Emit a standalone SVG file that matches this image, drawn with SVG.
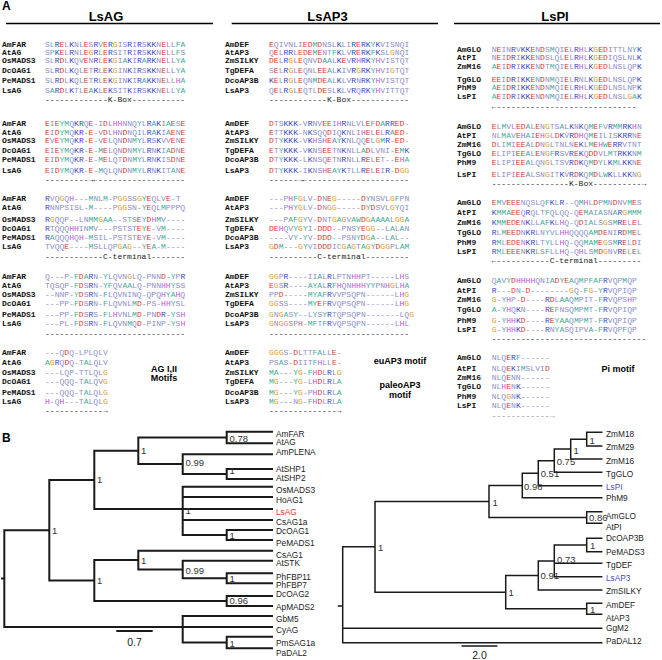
<svg xmlns="http://www.w3.org/2000/svg" width="662" height="660" viewBox="0 0 662 660">
<style>
.pl{font:bold 12px "Liberation Sans",Arial,sans-serif;fill:#000}
.ti{font:bold 13px "Liberation Sans",Arial,sans-serif;fill:#000;text-anchor:middle}
.mo{font:bold 9px "Liberation Sans",Arial,sans-serif;fill:#000;text-anchor:middle}
.n{font:bold 8px "Liberation Mono","DejaVu Sans Mono",monospace;fill:#111}
.s{font:8.05px "Liberation Mono","DejaVu Sans Mono",monospace;fill:#8b8dc9}
.d{font:8.05px "Liberation Mono","DejaVu Sans Mono",monospace;fill:#222}
.b{fill:#3945c6}.r{fill:#e0372c}.o{fill:#e2a02a}.m{fill:#c252d8}.t{fill:#3fae96}
.lf{font:8.3px "Liberation Sans",Arial,sans-serif;fill:#222}
.sv{font:9.5px "Liberation Sans",Arial,sans-serif;fill:#333}
.sc{font:10.5px "Liberation Sans",Arial,sans-serif;fill:#222;text-anchor:middle}
.tl{fill:none;stroke:#1a1a1a;stroke-width:2;stroke-linecap:square}
.tr{fill:none;stroke:#1a1a1a;stroke-width:1.5;stroke-linecap:square}
</style>
<rect width="662" height="660" fill="#fff"/>
<text class="pl" x="2" y="10">A</text>
<text class="ti" x="106" y="21">LsAG</text>
<text class="ti" x="327.5" y="21">LsAP3</text>
<text class="ti" x="555" y="21">LsPI</text>
<path d="M6,23.5H213M231.7,23.5H438M454,23.5H660" stroke="#000" stroke-width="1.3"/>

<g id="col-LsAG">
<text class="n" x="2" y="46.5">AmFAR</text><text class="n" x="2" y="55.2">AtAG</text><text class="n" x="2" y="63.2">OsMADS3</text><text class="n" x="2" y="73.2">DcOAG1</text><text class="n" x="2" y="82.5">PeMADS1</text><text class="n" x="2" y="92.5">LsAG</text>
<text class="s" x="45" y="46.5">SL<tspan class="b">R</tspan><tspan class="r">E</tspan>L<tspan class="b">K</tspan>NL<tspan class="r">E</tspan>S<tspan class="b">R</tspan>V<tspan class="r">E</tspan><tspan class="b">R</tspan><tspan class="o">G</tspan>IS<tspan class="b">R</tspan>I<tspan class="b">R</tspan>S<tspan class="b">KK</tspan>N<tspan class="r">E</tspan>LL<tspan class="t">FA</tspan></text>
<text class="s" x="45" y="55.2">SP<tspan class="b">K</tspan><tspan class="r">E</tspan>L<tspan class="b">R</tspan>NL<tspan class="r">E</tspan><tspan class="o">G</tspan><tspan class="b">R</tspan>L<tspan class="r">E</tspan><tspan class="b">R</tspan>SIT<tspan class="b">R</tspan>I<tspan class="b">R</tspan>S<tspan class="b">KK</tspan>N<tspan class="r">E</tspan>LL<tspan class="t">F</tspan>S</text>
<text class="s" x="45" y="63.2">SL<tspan class="b">R</tspan><tspan class="r">D</tspan>L<tspan class="b">K</tspan>QV<tspan class="r">E</tspan>N<tspan class="b">R</tspan>L<tspan class="r">E</tspan><tspan class="b">K</tspan><tspan class="o">G</tspan>I<tspan class="t">A</tspan><tspan class="b">K</tspan>I<tspan class="b">R</tspan><tspan class="t">A</tspan><tspan class="b">RK</tspan>N<tspan class="r">E</tspan>LL<tspan class="t">YA</tspan></text>
<text class="s" x="45" y="73.2">SL<tspan class="b">R</tspan><tspan class="r">D</tspan>L<tspan class="b">K</tspan>QL<tspan class="r">E</tspan>T<tspan class="b">R</tspan>L<tspan class="r">E</tspan><tspan class="b">K</tspan><tspan class="o">G</tspan>IN<tspan class="b">K</tspan>I<tspan class="b">R</tspan>S<tspan class="b">KK</tspan>N<tspan class="r">E</tspan>LL<tspan class="t">YA</tspan></text>
<text class="s" x="45" y="82.5">SL<tspan class="b">R</tspan><tspan class="r">D</tspan>L<tspan class="b">K</tspan>QL<tspan class="r">E</tspan>T<tspan class="b">R</tspan>L<tspan class="r">E</tspan><tspan class="b">K</tspan><tspan class="o">G</tspan>IN<tspan class="b">K</tspan>I<tspan class="b">R</tspan><tspan class="t">A</tspan><tspan class="b">KK</tspan>N<tspan class="r">E</tspan>LL<tspan class="m">H</tspan><tspan class="t">A</tspan></text>
<text class="s" x="45" y="92.5">S<tspan class="t">A</tspan><tspan class="b">R</tspan><tspan class="r">D</tspan>L<tspan class="b">K</tspan>TL<tspan class="r">E</tspan><tspan class="t">A</tspan><tspan class="b">K</tspan>L<tspan class="r">E</tspan><tspan class="b">K</tspan>SIT<tspan class="b">K</tspan>I<tspan class="b">R</tspan>S<tspan class="b">KK</tspan>N<tspan class="r">E</tspan>LL<tspan class="t">YA</tspan></text>
<text class="d" x="45" y="101.8">-------------K-Box-----------</text>

<text class="n" x="2" y="125.5">AmFAR</text><text class="n" x="2" y="134.5">AtAG</text><text class="n" x="2" y="143">OsMADS3</text><text class="n" x="2" y="152.5">DcOAG1</text><text class="n" x="2" y="162">PeMADS1</text><text class="n" x="2" y="172.5">LsAG</text>
<text class="s" x="45" y="125.5"><tspan class="r">E</tspan>I<tspan class="r">E</tspan><tspan class="t">YM</tspan>Q<tspan class="b">KR</tspan>Q<tspan class="r">E</tspan>-I<tspan class="r">D</tspan>L<tspan class="m">HH</tspan>NNQ<tspan class="t">Y</tspan>L<tspan class="b">R</tspan><tspan class="t">A</tspan><tspan class="b">K</tspan>I<tspan class="t">A</tspan><tspan class="r">E</tspan>S<tspan class="r">E</tspan></text>
<text class="s" x="45" y="134.5"><tspan class="r">E</tspan>I<tspan class="r">D</tspan><tspan class="t">YM</tspan>Q<tspan class="b">KR</tspan>-<tspan class="r">E</tspan>-V<tspan class="r">D</tspan>L<tspan class="m">H</tspan>N<tspan class="r">D</tspan>NQIL<tspan class="b">R</tspan><tspan class="t">A</tspan><tspan class="b">K</tspan>I<tspan class="t">A</tspan><tspan class="r">E</tspan>N<tspan class="r">E</tspan></text>
<text class="s" x="45" y="143"><tspan class="r">E</tspan>V<tspan class="r">E</tspan><tspan class="t">YM</tspan>Q<tspan class="b">KR</tspan>-<tspan class="r">E</tspan>-V<tspan class="r">E</tspan>LQN<tspan class="r">D</tspan>N<tspan class="t">MY</tspan>L<tspan class="b">R</tspan>S<tspan class="b">K</tspan>VV<tspan class="r">E</tspan>N<tspan class="r">E</tspan></text>
<text class="s" x="45" y="152.5"><tspan class="r">E</tspan>I<tspan class="r">E</tspan><tspan class="t">YM</tspan>Q<tspan class="b">KR</tspan>-<tspan class="r">E</tspan>-<tspan class="t">M</tspan><tspan class="r">E</tspan>LQN<tspan class="r">D</tspan>N<tspan class="t">MY</tspan>L<tspan class="b">R</tspan>N<tspan class="b">K</tspan>I<tspan class="t">A</tspan><tspan class="r">D</tspan>N<tspan class="r">E</tspan></text>
<text class="s" x="45" y="162"><tspan class="r">E</tspan>I<tspan class="r">D</tspan><tspan class="t">YM</tspan>Q<tspan class="b">KR</tspan>-<tspan class="r">E</tspan>-<tspan class="t">M</tspan><tspan class="r">E</tspan>LQT<tspan class="r">D</tspan>N<tspan class="t">MY</tspan>L<tspan class="b">R</tspan>N<tspan class="b">K</tspan>IS<tspan class="r">D</tspan>N<tspan class="r">E</tspan></text>
<text class="s" x="45" y="172.5"><tspan class="r">E</tspan>I<tspan class="r">D</tspan><tspan class="t">YM</tspan>Q<tspan class="b">KR</tspan>-<tspan class="r">E</tspan>-<tspan class="t">M</tspan>QLQN<tspan class="r">D</tspan>N<tspan class="t">MY</tspan>L<tspan class="b">R</tspan>N<tspan class="b">K</tspan>IT<tspan class="t">A</tspan>N<tspan class="r">E</tspan></text>
<text class="d" x="45" y="181.8">---------→←------------------</text>

<text class="n" x="2" y="201">AmFAR</text><text class="n" x="2" y="210.3">AtAG</text><text class="n" x="2" y="221.8">OsMADS3</text><text class="n" x="2" y="230.8">DcOAG1</text><text class="n" x="2" y="239.8">PeMADS1</text><text class="n" x="2" y="249.2">LsAG</text>
<text class="s" x="45" y="201"><tspan class="b">R</tspan>VQ<tspan class="o">G</tspan>Q<tspan class="m">H</tspan>---<tspan class="t">M</tspan>NL<tspan class="t">M</tspan>-P<tspan class="o">GG</tspan>SS<tspan class="o">G</tspan><tspan class="t">Y</tspan><tspan class="r">E</tspan>QLV<tspan class="r">E</tspan>-T</text>
<text class="s" x="45" y="210.3"><tspan class="b">R</tspan>NNPSISL-<tspan class="t">M</tspan>----P<tspan class="o">GG</tspan>SN-<tspan class="t">Y</tspan><tspan class="r">E</tspan>QL<tspan class="t">M</tspan>PPPQ</text>
<text class="s" x="45" y="221.8"><tspan class="b">R</tspan><tspan class="o">G</tspan>QQP--LN<tspan class="t">MM</tspan><tspan class="o">G</tspan><tspan class="t">AA</tspan>--STS<tspan class="r">E</tspan><tspan class="t">Y</tspan><tspan class="r">D</tspan><tspan class="m">H</tspan><tspan class="t">M</tspan>V----</text>
<text class="s" x="45" y="230.8"><tspan class="b">R</tspan>TQQQ<tspan class="m">HH</tspan>IN<tspan class="t">M</tspan>V---PSTST<tspan class="r">E</tspan><tspan class="t">Y</tspan><tspan class="r">E</tspan>-V<tspan class="t">M</tspan>----</text>
<text class="s" x="45" y="239.8"><tspan class="b">R</tspan><tspan class="t">A</tspan>QQQ<tspan class="m">H</tspan>Q<tspan class="m">H</tspan>-<tspan class="t">M</tspan>SIL-PSTST<tspan class="r">E</tspan><tspan class="t">Y</tspan><tspan class="r">E</tspan>-V<tspan class="t">M</tspan>----</text>
<text class="s" x="45" y="249.2">TVQQ<tspan class="r">E</tspan>----<tspan class="t">M</tspan>SLLQP<tspan class="o">G</tspan><tspan class="t">A</tspan><tspan class="o">G</tspan>--<tspan class="t">Y</tspan><tspan class="r">E</tspan><tspan class="t">A</tspan>-<tspan class="t">M</tspan>----</text>
<text class="d" x="45" y="258.5">------------C-terminal-------</text>

<text class="n" x="2" y="278.5">AmFAR</text><text class="n" x="2" y="287.5">AtAG</text><text class="n" x="2" y="296.8">OsMADS3</text><text class="n" x="2" y="306.3">DcOAG1</text><text class="n" x="2" y="317.3">PeMADS1</text><text class="n" x="2" y="326">LsAG</text>
<text class="s" x="45" y="278.5">Q---P-<tspan class="t">F</tspan><tspan class="r">D</tspan><tspan class="t">A</tspan><tspan class="b">R</tspan>N-<tspan class="t">Y</tspan>LQVN<tspan class="o">G</tspan>LQ-PNN<tspan class="r">D</tspan>-<tspan class="t">Y</tspan>P<tspan class="b">R</tspan></text>
<text class="s" x="45" y="287.5">TQSQP-<tspan class="t">F</tspan><tspan class="r">D</tspan>S<tspan class="b">R</tspan>N-<tspan class="t">YF</tspan>QV<tspan class="t">AA</tspan>LQ-PNN<tspan class="m">HH</tspan><tspan class="t">Y</tspan>SS</text>
<text class="s" x="45" y="296.8">--NNP-<tspan class="t">Y</tspan><tspan class="r">D</tspan>S<tspan class="b">R</tspan>N-<tspan class="t">F</tspan>LQVNINQ-QPQ<tspan class="m">H</tspan><tspan class="t">YA</tspan><tspan class="m">H</tspan>Q</text>
<text class="s" x="45" y="306.3">---PP-<tspan class="t">F</tspan><tspan class="r">D</tspan>S<tspan class="b">R</tspan>N-<tspan class="t">F</tspan>LQVNL<tspan class="t">M</tspan><tspan class="r">D</tspan>-PS-<tspan class="m">HH</tspan><tspan class="t">Y</tspan>SL</text>
<text class="s" x="45" y="317.3">---PP-<tspan class="t">F</tspan><tspan class="r">D</tspan>S<tspan class="b">R</tspan>S-<tspan class="t">F</tspan>L<tspan class="m">H</tspan>VNL<tspan class="t">M</tspan><tspan class="r">D</tspan>-PN<tspan class="r">D</tspan><tspan class="b">R</tspan>-<tspan class="t">Y</tspan>S<tspan class="m">H</tspan></text>
<text class="s" x="45" y="326">---PL-<tspan class="t">F</tspan><tspan class="r">D</tspan>S<tspan class="b">R</tspan>N-<tspan class="t">F</tspan>LQVN<tspan class="t">M</tspan>Q<tspan class="r">D</tspan>-PINP-<tspan class="t">Y</tspan>S<tspan class="m">H</tspan></text>
<text class="d" x="45" y="335.6">-----------------------------</text>

<text class="n" x="2" y="354.5">AmFAR</text><text class="n" x="2" y="365">AtAG</text><text class="n" x="2" y="374.5">OsMADS3</text><text class="n" x="2" y="383.5">DcOAG1</text><text class="n" x="2" y="395">PeMADS1</text><text class="n" x="2" y="404.2">LsAG</text>
<text class="s" x="45" y="354.5">---Q<tspan class="r">D</tspan>Q-LPLQLV</text>
<text class="s" x="45" y="365"><tspan class="t">A</tspan><tspan class="o">G</tspan><tspan class="b">R</tspan>Q<tspan class="r">D</tspan>Q-T<tspan class="t">A</tspan>LQLV</text>
<text class="s" x="45" y="374.5">---LQP-TTLQL<tspan class="o">G</tspan></text>
<text class="s" x="45" y="383.5">---QQQ-T<tspan class="t">A</tspan>LQV<tspan class="o">G</tspan></text>
<text class="s" x="45" y="395">---QQQ-T<tspan class="t">A</tspan>LQL<tspan class="o">G</tspan></text>
<text class="s" x="45" y="404.2"><tspan class="m">H</tspan>-Q<tspan class="m">H</tspan>---T<tspan class="t">A</tspan>LQL<tspan class="o">G</tspan></text>
<text class="d" x="45" y="413.2">------------→</text>
<text class="mo" x="164" y="371.5">AG I,II</text>
<text class="mo" x="164" y="381">Motifs</text>
</g>

<g id="col-LsAP3">
<text class="n" x="225" y="46.5">AmDEF</text><text class="n" x="225" y="55.2">AtAP3</text><text class="n" x="225" y="63.2">ZmSILKY</text><text class="n" x="225" y="73.2">TgDEFA</text><text class="n" x="225" y="82.5">DcoAP3B</text><text class="n" x="225" y="92.5">LsAP3</text>
<text class="s" x="269" y="46.5"><tspan class="r">E</tspan>QIVNLI<tspan class="r">ED</tspan><tspan class="t">M</tspan><tspan class="r">D</tspan>NSL<tspan class="b">K</tspan>LI<tspan class="b">R</tspan><tspan class="r">E</tspan><tspan class="b">RK</tspan><tspan class="t">Y</tspan><tspan class="b">K</tspan>VISNQI</text>
<text class="s" x="269" y="55.2">Q<tspan class="r">E</tspan>L<tspan class="b">RR</tspan>L<tspan class="r">EDE</tspan><tspan class="t">M</tspan><tspan class="r">E</tspan>NT<tspan class="t">F</tspan><tspan class="b">K</tspan>LV<tspan class="b">R</tspan><tspan class="r">E</tspan><tspan class="b">RK</tspan><tspan class="t">F</tspan><tspan class="b">K</tspan>SL<tspan class="o">G</tspan>NQI</text>
<text class="s" x="269" y="63.2"><tspan class="r">DE</tspan>L<tspan class="b">R</tspan><tspan class="o">G</tspan>L<tspan class="r">E</tspan>QNV<tspan class="r">D</tspan><tspan class="t">AA</tspan>L<tspan class="b">K</tspan><tspan class="r">E</tspan>V<tspan class="b">R</tspan><tspan class="m">H</tspan><tspan class="b">RK</tspan><tspan class="t">Y</tspan><tspan class="m">H</tspan>VISTQT</text>
<text class="s" x="269" y="73.2">S<tspan class="r">E</tspan>L<tspan class="b">R</tspan><tspan class="o">G</tspan>L<tspan class="r">E</tspan>QNL<tspan class="r">EE</tspan><tspan class="t">A</tspan>L<tspan class="b">K</tspan>IV<tspan class="b">R</tspan><tspan class="o">G</tspan><tspan class="b">RK</tspan><tspan class="t">Y</tspan><tspan class="m">H</tspan>VI<tspan class="o">G</tspan>TQT</text>
<text class="s" x="269" y="82.5"><tspan class="b">K</tspan><tspan class="r">E</tspan>L<tspan class="b">R</tspan><tspan class="o">G</tspan>L<tspan class="r">E</tspan>QN<tspan class="t">M</tspan><tspan class="r">DE</tspan><tspan class="t">A</tspan>L<tspan class="b">K</tspan>LV<tspan class="b">R</tspan>N<tspan class="b">RK</tspan><tspan class="t">Y</tspan><tspan class="m">H</tspan>VISTQT</text>
<text class="s" x="269" y="92.5">Q<tspan class="r">E</tspan>L<tspan class="b">R</tspan><tspan class="o">G</tspan>L<tspan class="r">E</tspan>QTL<tspan class="r">DE</tspan>SL<tspan class="b">K</tspan>LV<tspan class="b">R</tspan>Q<tspan class="b">RK</tspan><tspan class="t">Y</tspan><tspan class="m">H</tspan>VITTQT</text>
<text class="d" x="269" y="101.8">------------K-Box------------</text>

<text class="n" x="225" y="125.5">AmDEF</text><text class="n" x="225" y="134.5">AtAP3</text><text class="n" x="225" y="143">ZmSILKY</text><text class="n" x="225" y="152.5">TgDEFA</text><text class="n" x="225" y="162">DcoAP3B</text><text class="n" x="225" y="172.5">LsAP3</text>
<text class="s" x="269" y="125.5"><tspan class="r">D</tspan>TS<tspan class="b">KKK</tspan>-V<tspan class="b">R</tspan>NV<tspan class="r">EE</tspan>I<tspan class="m">H</tspan><tspan class="b">R</tspan>NLVL<tspan class="r">E</tspan><tspan class="t">F</tspan><tspan class="r">D</tspan><tspan class="t">A</tspan><tspan class="b">RR</tspan><tspan class="r">ED</tspan>-</text>
<text class="s" x="269" y="134.5"><tspan class="r">E</tspan>TT<tspan class="b">KKK</tspan>-N<tspan class="b">K</tspan>SQQ<tspan class="r">D</tspan>IQ<tspan class="b">K</tspan>NLI<tspan class="m">H</tspan><tspan class="r">E</tspan>L<tspan class="r">E</tspan>L<tspan class="b">R</tspan><tspan class="t">A</tspan><tspan class="r">ED</tspan>-</text>
<text class="s" x="269" y="143"><tspan class="r">D</tspan>T<tspan class="t">Y</tspan><tspan class="b">KKK</tspan>-V<tspan class="b">K</tspan><tspan class="m">H</tspan>S<tspan class="m">H</tspan><tspan class="r">E</tspan><tspan class="t">AY</tspan><tspan class="b">K</tspan>NLQQ<tspan class="r">E</tspan>L<tspan class="o">G</tspan><tspan class="t">M</tspan><tspan class="b">R</tspan>-<tspan class="r">ED</tspan>-</text>
<text class="s" x="269" y="152.5"><tspan class="r">E</tspan>T<tspan class="t">Y</tspan><tspan class="b">KKK</tspan>-V<tspan class="b">K</tspan>NS<tspan class="r">EE</tspan>TN<tspan class="b">K</tspan>NLL<tspan class="t">A</tspan><tspan class="r">D</tspan>LVNI-<tspan class="r">E</tspan><tspan class="t">M</tspan><tspan class="b">K</tspan></text>
<text class="s" x="269" y="162"><tspan class="r">D</tspan>T<tspan class="t">Y</tspan><tspan class="b">KKK</tspan>-L<tspan class="b">K</tspan>NSQ<tspan class="r">E</tspan>TN<tspan class="b">R</tspan>NLL<tspan class="b">R</tspan><tspan class="r">E</tspan>L<tspan class="r">E</tspan>T--<tspan class="r">E</tspan><tspan class="m">H</tspan><tspan class="t">A</tspan></text>
<text class="s" x="269" y="172.5"><tspan class="r">D</tspan>T<tspan class="t">Y</tspan><tspan class="b">KKK</tspan>-I<tspan class="b">K</tspan>NS<tspan class="m">H</tspan><tspan class="r">E</tspan><tspan class="t">AY</tspan><tspan class="b">K</tspan>TLL<tspan class="b">R</tspan><tspan class="r">E</tspan>L<tspan class="r">E</tspan>I<tspan class="b">R</tspan>-<tspan class="r">D</tspan><tspan class="o">GG</tspan></text>
<text class="d" x="269" y="181.8">------→←---------------------</text>

<text class="n" x="225" y="201">AmDEF</text><text class="n" x="225" y="210.3">AtAP3</text><text class="n" x="225" y="221.8">ZmSILKY</text><text class="n" x="225" y="230.8">TgDEFA</text><text class="n" x="225" y="239.8">DcoAP3B</text><text class="n" x="225" y="249.2">LsAP3</text>
<text class="s" x="269" y="201">---P<tspan class="m">H</tspan><tspan class="t">F</tspan><tspan class="o">G</tspan>LV-<tspan class="r">D</tspan>N<tspan class="r">E</tspan><tspan class="o">G</tspan>-----<tspan class="r">D</tspan><tspan class="t">Y</tspan>NSVL<tspan class="o">G</tspan><tspan class="t">F</tspan>PN</text>
<text class="s" x="269" y="210.3">---P<tspan class="m">H</tspan><tspan class="t">Y</tspan><tspan class="o">G</tspan>LV-<tspan class="r">D</tspan>N<tspan class="o">GG</tspan>-----<tspan class="r">D</tspan><tspan class="t">Y</tspan><tspan class="r">D</tspan>SVL<tspan class="o">G</tspan><tspan class="t">Y</tspan>QI</text>
<text class="s" x="269" y="221.8">---P<tspan class="t">AF</tspan><tspan class="o">G</tspan><tspan class="t">Y</tspan>V-<tspan class="r">D</tspan>NT<tspan class="o">G</tspan><tspan class="t">A</tspan><tspan class="o">G</tspan>V<tspan class="t">AW</tspan><tspan class="r">D</tspan><tspan class="o">G</tspan><tspan class="t">AAAA</tspan>L<tspan class="o">GG</tspan><tspan class="t">A</tspan></text>
<text class="s" x="269" y="230.8"><tspan class="r">DE</tspan><tspan class="m">H</tspan>QV<tspan class="t">Y</tspan><tspan class="o">G</tspan><tspan class="t">Y</tspan>I-<tspan class="r">DDD</tspan>--PNS<tspan class="t">Y</tspan><tspan class="r">E</tspan><tspan class="o">GG</tspan>--L<tspan class="t">A</tspan>L<tspan class="t">A</tspan>N</text>
<text class="s" x="269" y="239.8">----V<tspan class="t">Y</tspan>-<tspan class="t">Y</tspan>V-<tspan class="r">DDD</tspan>--PSN<tspan class="t">Y</tspan><tspan class="r">D</tspan><tspan class="o">G</tspan><tspan class="t">A</tspan>--L<tspan class="t">A</tspan>L--</text>
<text class="s" x="269" y="249.2"><tspan class="o">G</tspan><tspan class="r">D</tspan><tspan class="t">M</tspan>---<tspan class="o">G</tspan><tspan class="t">Y</tspan>VI<tspan class="r">DDD</tspan>IC<tspan class="o">G</tspan><tspan class="t">A</tspan><tspan class="o">G</tspan>T<tspan class="t">A</tspan><tspan class="o">G</tspan><tspan class="t">Y</tspan><tspan class="r">D</tspan><tspan class="o">GG</tspan>PL<tspan class="t">AM</tspan></text>
<text class="d" x="269" y="258.5">----------C-terminal---------</text>

<text class="n" x="225" y="278.5">AmDEF</text><text class="n" x="225" y="287.5">AtAP3</text><text class="n" x="225" y="296.8">ZmSILKY</text><text class="n" x="225" y="306.3">TgDEFA</text><text class="n" x="225" y="317.3">DcoAP3B</text><text class="n" x="225" y="326">LsAP3</text>
<text class="s" x="269" y="278.5"><tspan class="o">GG</tspan>P<tspan class="b">R</tspan>----II<tspan class="t">A</tspan>L<tspan class="b">R</tspan>LPTN<tspan class="m">HH</tspan>PT-----L<tspan class="m">H</tspan>S</text>
<text class="s" x="269" y="287.5"><tspan class="r">E</tspan><tspan class="o">G</tspan>S<tspan class="b">R</tspan>----<tspan class="t">AYA</tspan>L<tspan class="b">R</tspan><tspan class="t">F</tspan><tspan class="m">H</tspan>QN<tspan class="m">HHH</tspan><tspan class="t">YY</tspan>PN<tspan class="m">H</tspan><tspan class="o">G</tspan>L<tspan class="m">H</tspan><tspan class="t">A</tspan></text>
<text class="s" x="269" y="296.8">PP<tspan class="r">D</tspan>-----<tspan class="t">MYAF</tspan><tspan class="b">R</tspan>VVPSQPN------L<tspan class="m">H</tspan><tspan class="o">G</tspan></text>
<text class="s" x="269" y="306.3"><tspan class="o">GG</tspan>SS----<tspan class="t">MY</tspan><tspan class="r">E</tspan><tspan class="t">F</tspan><tspan class="b">R</tspan>VQPSQPN------L<tspan class="m">H</tspan><tspan class="o">G</tspan></text>
<text class="s" x="269" y="317.3"><tspan class="o">G</tspan>N<tspan class="o">G</tspan><tspan class="t">A</tspan>S<tspan class="t">Y</tspan>--L<tspan class="t">Y</tspan>S<tspan class="t">Y</tspan><tspan class="b">R</tspan>TQPSQPN-------LQ<tspan class="o">G</tspan></text>
<text class="s" x="269" y="326"><tspan class="o">G</tspan>N<tspan class="o">GG</tspan>SP<tspan class="m">H</tspan>-<tspan class="t">MF</tspan>T<tspan class="t">F</tspan><tspan class="b">R</tspan>VQPSQPN------L<tspan class="m">H</tspan>L</text>
<text class="d" x="269" y="335.6">-----------------------------</text>

<text class="n" x="225" y="354.5">AmDEF</text><text class="n" x="225" y="365">AtAP3</text><text class="n" x="225" y="374.5">ZmSILKY</text><text class="n" x="225" y="383.5">TgDEFA</text><text class="n" x="225" y="395">DcoAP3B</text><text class="n" x="225" y="404.2">LsAP3</text>
<text class="s" x="269" y="354.5"><tspan class="o">GGG</tspan>S-<tspan class="r">D</tspan>LTT<tspan class="t">FA</tspan>LL<tspan class="r">E</tspan>-</text>
<text class="s" x="269" y="365">PS<tspan class="t">A</tspan>S-<tspan class="r">D</tspan>IIT<tspan class="t">F</tspan><tspan class="m">H</tspan>LL<tspan class="r">E</tspan>-</text>
<text class="s" x="269" y="374.5"><tspan class="t">MA</tspan>---<tspan class="t">Y</tspan><tspan class="o">G</tspan>-<tspan class="t">F</tspan><tspan class="m">H</tspan><tspan class="r">D</tspan>L<tspan class="b">R</tspan>L<tspan class="o">G</tspan></text>
<text class="s" x="269" y="383.5"><tspan class="t">M</tspan><tspan class="o">G</tspan>---<tspan class="t">Y</tspan><tspan class="o">G</tspan>-L<tspan class="m">H</tspan><tspan class="r">D</tspan>L<tspan class="b">R</tspan>L<tspan class="t">A</tspan></text>
<text class="s" x="269" y="395"><tspan class="t">M</tspan><tspan class="o">G</tspan>---<tspan class="t">Y</tspan><tspan class="o">G</tspan>-P<tspan class="m">H</tspan><tspan class="r">D</tspan>L<tspan class="b">R</tspan>L<tspan class="t">A</tspan></text>
<text class="s" x="269" y="404.2"><tspan class="t">M</tspan><tspan class="o">G</tspan>---N<tspan class="o">G</tspan>-<tspan class="t">F</tspan><tspan class="m">H</tspan><tspan class="r">D</tspan>L<tspan class="b">R</tspan>L<tspan class="t">A</tspan></text>
<text class="d" x="269" y="413.2">--------------→</text>
<text class="mo" x="400" y="364">euAP3 motif</text>
<text class="mo" x="400" y="388">paleoAP3</text>
<text class="mo" x="400" y="398">motif</text>
</g>

<g id="col-LsPI">
<text class="n" x="457" y="51.5">AmGLO</text><text class="n" x="457" y="59.8">AtPI</text><text class="n" x="457" y="69.2">ZmM16</text><text class="n" x="457" y="81.8">TgGLO</text><text class="n" x="457" y="89.8">PhM9</text><text class="n" x="457" y="98.5">LsPI</text>
<text class="s" x="491.7" y="51.5">N<tspan class="r">E</tspan>IN<tspan class="b">R</tspan>V<tspan class="b">KK</tspan><tspan class="r">E</tspan>N<tspan class="r">D</tspan>S<tspan class="t">M</tspan>QI<tspan class="r">E</tspan>L<tspan class="b">R</tspan><tspan class="m">H</tspan>L<tspan class="b">K</tspan><tspan class="o">G</tspan><tspan class="r">ED</tspan>ITTLN<tspan class="t">Y</tspan><tspan class="b">K</tspan></text>
<text class="s" x="491.7" y="59.8">N<tspan class="r">E</tspan>I<tspan class="r">D</tspan><tspan class="b">R</tspan>I<tspan class="b">KK</tspan><tspan class="r">E</tspan>N<tspan class="r">D</tspan>SLQL<tspan class="r">E</tspan>L<tspan class="b">R</tspan><tspan class="m">H</tspan>L<tspan class="b">K</tspan><tspan class="o">G</tspan><tspan class="r">ED</tspan>IQSLNL<tspan class="b">K</tspan></text>
<text class="s" x="491.7" y="69.2"><tspan class="t">A</tspan><tspan class="r">E</tspan>I<tspan class="r">D</tspan><tspan class="b">R</tspan>I<tspan class="b">KK</tspan><tspan class="r">E</tspan>N<tspan class="r">D</tspan>T<tspan class="t">M</tspan>QI<tspan class="r">E</tspan>L<tspan class="b">R</tspan><tspan class="m">H</tspan>L<tspan class="b">K</tspan><tspan class="o">G</tspan><tspan class="r">ED</tspan>LNSLQP<tspan class="b">K</tspan></text>
<text class="s" x="491.7" y="81.8"><tspan class="r">EE</tspan>I<tspan class="r">D</tspan><tspan class="b">R</tspan>I<tspan class="b">KK</tspan><tspan class="r">E</tspan>N<tspan class="r">D</tspan>N<tspan class="t">M</tspan>QI<tspan class="r">E</tspan>L<tspan class="b">R</tspan>NL<tspan class="b">K</tspan><tspan class="o">G</tspan><tspan class="r">ED</tspan>LNSLQP<tspan class="b">K</tspan></text>
<text class="s" x="491.7" y="89.8"><tspan class="t">A</tspan><tspan class="r">E</tspan>I<tspan class="r">D</tspan><tspan class="b">R</tspan>I<tspan class="b">KK</tspan><tspan class="r">E</tspan>N<tspan class="r">D</tspan>N<tspan class="t">M</tspan>QI<tspan class="r">E</tspan>L<tspan class="b">R</tspan><tspan class="m">H</tspan>L<tspan class="b">K</tspan><tspan class="o">G</tspan><tspan class="r">ED</tspan>LNSLNP<tspan class="b">K</tspan></text>
<text class="s" x="491.7" y="98.5"><tspan class="t">A</tspan><tspan class="r">E</tspan>I<tspan class="r">D</tspan><tspan class="b">R</tspan>I<tspan class="b">KK</tspan><tspan class="r">E</tspan>N<tspan class="r">D</tspan>N<tspan class="t">M</tspan>QI<tspan class="r">E</tspan>L<tspan class="b">R</tspan><tspan class="m">H</tspan>L<tspan class="b">K</tspan><tspan class="o">G</tspan><tspan class="r">ED</tspan>LNSL<tspan class="o">G</tspan><tspan class="t">A</tspan><tspan class="b">K</tspan></text>
<text class="d" x="491.7" y="108.5">←-----------------------------</text>

<text class="n" x="457" y="128.5">AmGLO</text><text class="n" x="457" y="137.5">AtPI</text><text class="n" x="457" y="146.8">ZmM16</text><text class="n" x="457" y="155.8">TgGLO</text><text class="n" x="457" y="165.2">PhM9</text><text class="n" x="457" y="176.5">LsPI</text>
<text class="s" x="491.7" y="128.5"><tspan class="r">E</tspan>L<tspan class="t">M</tspan>VL<tspan class="r">ED</tspan><tspan class="t">A</tspan>L<tspan class="r">E</tspan>N<tspan class="o">G</tspan>TS<tspan class="t">A</tspan>L<tspan class="b">K</tspan>N<tspan class="b">K</tspan>Q<tspan class="t">M</tspan><tspan class="r">E</tspan><tspan class="t">F</tspan>V<tspan class="b">R</tspan><tspan class="t">MM</tspan><tspan class="b">RK</tspan><tspan class="m">H</tspan>N</text>
<text class="s" x="491.7" y="137.5">NL<tspan class="t">MA</tspan>V<tspan class="r">E</tspan><tspan class="m">H</tspan><tspan class="t">A</tspan>I<tspan class="r">E</tspan><tspan class="m">H</tspan><tspan class="o">G</tspan>L<tspan class="r">D</tspan><tspan class="b">K</tspan>V<tspan class="b">R</tspan><tspan class="r">D</tspan><tspan class="m">H</tspan>Q<tspan class="t">M</tspan><tspan class="r">E</tspan>ILIS<tspan class="b">KRR</tspan>N<tspan class="r">E</tspan></text>
<text class="s" x="491.7" y="146.8"><tspan class="r">D</tspan>LI<tspan class="t">M</tspan>I<tspan class="r">EE</tspan><tspan class="t">A</tspan>L<tspan class="r">D</tspan>N<tspan class="o">G</tspan>LTNLN<tspan class="r">E</tspan><tspan class="b">K</tspan>L<tspan class="t">M</tspan><tspan class="r">E</tspan><tspan class="m">H</tspan><tspan class="t">W</tspan><tspan class="r">E</tspan><tspan class="b">RR</tspan>VTNT</text>
<text class="s" x="491.7" y="155.8"><tspan class="r">E</tspan>LIPI<tspan class="r">EE</tspan><tspan class="t">A</tspan>L<tspan class="r">E</tspan>N<tspan class="o">G</tspan><tspan class="t">F</tspan><tspan class="b">R</tspan>SV<tspan class="b">R</tspan><tspan class="r">E</tspan><tspan class="b">K</tspan>Q<tspan class="r">DD</tspan>VL<tspan class="t">M</tspan>T<tspan class="b">RKK</tspan>N<tspan class="t">M</tspan></text>
<text class="s" x="491.7" y="165.2"><tspan class="r">E</tspan>LIPI<tspan class="r">EE</tspan><tspan class="t">A</tspan>LQN<tspan class="o">G</tspan>LTSV<tspan class="b">R</tspan><tspan class="r">D</tspan><tspan class="b">K</tspan>Q<tspan class="t">M</tspan><tspan class="r">D</tspan><tspan class="t">Y</tspan>L<tspan class="b">K</tspan><tspan class="t">M</tspan>L<tspan class="b">KK</tspan>N<tspan class="r">E</tspan></text>
<text class="s" x="491.7" y="176.5"><tspan class="r">E</tspan>LIPI<tspan class="r">EE</tspan><tspan class="t">A</tspan>LSN<tspan class="o">G</tspan>IT<tspan class="b">K</tspan>V<tspan class="b">R</tspan><tspan class="r">D</tspan><tspan class="b">K</tspan>Q<tspan class="t">M</tspan><tspan class="r">D</tspan>L<tspan class="t">W</tspan><tspan class="b">K</tspan>LL<tspan class="b">KK</tspan>N<tspan class="o">G</tspan></text>
<text class="d" x="491.7" y="185.8">----------------K-Box----------→</text>

<text class="n" x="457" y="205.2">AmGLO</text><text class="n" x="457" y="215.2">AtPI</text><text class="n" x="457" y="225.2">ZmM16</text><text class="n" x="457" y="234.8">TgGLO</text><text class="n" x="457" y="244.8">PhM9</text><text class="n" x="457" y="254.2">LsPI</text>
<text class="s" x="491.7" y="205.2"><tspan class="r">E</tspan><tspan class="t">M</tspan>V<tspan class="r">EEE</tspan>NQSLQ<tspan class="t">F</tspan><tspan class="b">K</tspan>L<tspan class="b">R</tspan>--Q<tspan class="t">M</tspan><tspan class="m">H</tspan>L<tspan class="r">D</tspan>P<tspan class="t">M</tspan>N<tspan class="r">D</tspan>NV<tspan class="t">M</tspan><tspan class="r">E</tspan>S</text>
<text class="s" x="491.7" y="215.2"><tspan class="b">K</tspan><tspan class="t">MMA</tspan><tspan class="r">EE</tspan>Q<tspan class="b">R</tspan>QLT<tspan class="t">F</tspan>QLQQ-Q<tspan class="r">E</tspan><tspan class="t">MA</tspan>I<tspan class="t">A</tspan>SN<tspan class="t">A</tspan><tspan class="b">R</tspan><tspan class="o">G</tspan><tspan class="t">MMM</tspan></text>
<text class="s" x="491.7" y="225.2"><tspan class="b">K</tspan><tspan class="t">MM</tspan><tspan class="r">EDE</tspan>N<tspan class="b">K</tspan>LL<tspan class="t">AF</tspan><tspan class="b">K</tspan>L<tspan class="m">H</tspan>Q-Q<tspan class="r">D</tspan>I<tspan class="t">A</tspan>LS<tspan class="o">G</tspan>S<tspan class="t">M</tspan><tspan class="b">R</tspan><tspan class="r">E</tspan>L<tspan class="r">E</tspan>L</text>
<text class="s" x="491.7" y="234.8"><tspan class="b">R</tspan>L<tspan class="t">M</tspan><tspan class="r">EED</tspan>N<tspan class="b">KR</tspan>LN<tspan class="t">Y</tspan>VL<tspan class="m">HH</tspan>QQQQ<tspan class="t">AM</tspan><tspan class="r">DE</tspan>NI<tspan class="b">R</tspan><tspan class="r">D</tspan><tspan class="t">M</tspan><tspan class="r">E</tspan>L</text>
<text class="s" x="491.7" y="244.8"><tspan class="b">R</tspan><tspan class="t">M</tspan>L<tspan class="r">EDE</tspan>N<tspan class="b">KR</tspan>LT<tspan class="t">Y</tspan>LL<tspan class="m">H</tspan>Q-QQ<tspan class="t">MAM</tspan><tspan class="r">E</tspan><tspan class="o">G</tspan>S<tspan class="t">M</tspan><tspan class="b">R</tspan><tspan class="r">E</tspan>L<tspan class="r">D</tspan>I</text>
<text class="s" x="491.7" y="254.2"><tspan class="b">R</tspan><tspan class="t">M</tspan>L<tspan class="r">EEE</tspan>N<tspan class="b">KR</tspan>LS<tspan class="t">F</tspan>LL<tspan class="m">H</tspan>Q-Q<tspan class="m">H</tspan>LS<tspan class="t">M</tspan><tspan class="r">D</tspan><tspan class="o">G</tspan>NV<tspan class="b">R</tspan><tspan class="r">E</tspan>L<tspan class="r">E</tspan>L</text>
<text class="d" x="491.7" y="263.2">←-----------C-terminal---------</text>

<text class="n" x="457" y="283.2">AmGLO</text><text class="n" x="457" y="292.5">AtPI</text><text class="n" x="457" y="301.8">ZmM16</text><text class="n" x="457" y="311.5">TgGLO</text><text class="n" x="457" y="322.5">PhM9</text><text class="n" x="457" y="331.8">LsPI</text>
<text class="s" x="491.7" y="283.2">Q<tspan class="t">A</tspan>V<tspan class="t">Y</tspan><tspan class="r">D</tspan><tspan class="m">HHHH</tspan>QNI<tspan class="t">A</tspan><tspan class="r">D</tspan><tspan class="t">Y</tspan><tspan class="r">E</tspan><tspan class="t">A</tspan>Q<tspan class="t">M</tspan>P<tspan class="t">FAF</tspan><tspan class="b">R</tspan>VQP<tspan class="t">M</tspan>QP</text>
<text class="s" x="491.7" y="292.5"><tspan class="b">R</tspan>---<tspan class="r">D</tspan>N-<tspan class="r">D</tspan>--------<tspan class="o">G</tspan>Q-<tspan class="t">F</tspan><tspan class="o">G</tspan>-<tspan class="t">Y</tspan><tspan class="b">R</tspan>VQPIQP</text>
<text class="s" x="491.7" y="301.8"><tspan class="o">G</tspan>-<tspan class="t">Y</tspan><tspan class="m">H</tspan>P-<tspan class="r">D</tspan>----<tspan class="b">R</tspan><tspan class="r">D</tspan>L<tspan class="t">AA</tspan>Q<tspan class="t">M</tspan>PIT-<tspan class="t">F</tspan><tspan class="b">R</tspan>VQPS<tspan class="m">H</tspan>P</text>
<text class="s" x="491.7" y="311.5"><tspan class="t">A</tspan>-<tspan class="t">Y</tspan><tspan class="m">H</tspan>Q<tspan class="b">K</tspan>N----<tspan class="b">R</tspan><tspan class="r">E</tspan><tspan class="t">F</tspan>NSQ<tspan class="t">M</tspan>P<tspan class="t">M</tspan>T-<tspan class="t">F</tspan><tspan class="b">R</tspan>VQPIQP</text>
<text class="s" x="491.7" y="322.5"><tspan class="o">G</tspan>-<tspan class="t">Y</tspan><tspan class="m">HH</tspan><tspan class="b">K</tspan><tspan class="r">D</tspan>----<tspan class="b">R</tspan><tspan class="r">E</tspan><tspan class="t">YAA</tspan>Q<tspan class="t">M</tspan>P<tspan class="t">M</tspan>T-<tspan class="t">F</tspan><tspan class="b">R</tspan>VQPIQP</text>
<text class="s" x="491.7" y="331.8"><tspan class="o">G</tspan>-<tspan class="t">Y</tspan><tspan class="m">HH</tspan><tspan class="b">K</tspan><tspan class="r">D</tspan>----<tspan class="b">R</tspan>N<tspan class="t">YA</tspan>SQIPV<tspan class="t">A</tspan>-<tspan class="t">F</tspan><tspan class="b">R</tspan>VQP<tspan class="t">F</tspan>QP</text>
<text class="d" x="491.7" y="340.8">--------------------------------</text>

<text class="n" x="457" y="360.2">AmGLO</text><text class="n" x="457" y="370.8">AtPI</text><text class="n" x="457" y="380.2">ZmM16</text><text class="n" x="457" y="389.2">TgGLO</text><text class="n" x="457" y="398.5">PhM9</text><text class="n" x="457" y="407.5">LsPI</text>
<text class="s" x="491.7" y="360.2">NLQ<tspan class="r">E</tspan><tspan class="b">R</tspan><tspan class="t">F</tspan>------</text>
<text class="s" x="491.7" y="370.8">NLQ<tspan class="r">E</tspan><tspan class="b">K</tspan>I<tspan class="t">M</tspan>SLVI<tspan class="r">D</tspan></text>
<text class="s" x="491.7" y="380.2">NLQ<tspan class="r">E</tspan>NN------</text>
<text class="s" x="491.7" y="389.2">NL<tspan class="m">H</tspan><tspan class="r">E</tspan>N<tspan class="b">K</tspan>------</text>
<text class="s" x="491.7" y="398.5">NLQ<tspan class="o">G</tspan>N<tspan class="b">K</tspan>------</text>
<text class="s" x="491.7" y="407.5">NLQ<tspan class="r">E</tspan>N<tspan class="b">K</tspan>------</text>
<text class="d" x="491.7" y="417.5" fill="#888" style="fill:#888">------------→</text>
<text class="mo" x="618" y="372">Pi motif</text>
</g>

<text class="pl" x="2" y="442">B</text>

<g id="connectors">
<path class="tl" d="M226.7,431.7V443.3M226.7,431.7H272M226.7,443.3H272
M138.3,437.5V464M138.3,437.5H226.7M138.3,464H182.7
M182.7,454.3V474M182.7,454.3H272M182.7,474H226.7
M226.7,469V479M226.7,469H272M226.7,479H272
M94.3,450.8V509M94.3,450.8H138.3M94.3,509H182.7
M182.7,486.7V535M182.7,486.7H272M182.7,497H272M182.7,509H272M182.7,520H272M182.7,535H226.7
M226.7,530V540M226.7,530H272M226.7,540H272
M49.3,480V580.6M49.3,480H94.3M49.3,580.6H94.3
M94.3,560.1V601M94.3,560.1H138.3M94.3,601H226.7
M138.3,550.7V569.5M138.3,550.7H272M138.3,569.5H182.7
M182.7,560.7V578.3M182.7,560.7H272M182.7,578.3H226.7
M226.7,573.3V583.3M226.7,573.3H272M226.7,583.3H272
M226.7,596V606M226.7,596H272M226.7,606H272
M4.3,530.2V627M4.3,530.2H49.3M4.3,627H182.7M2,578.6H4.3
M182.7,616V642.5M182.7,616H272M182.7,627H272M182.7,642.5H226.7
M226.7,636.7V648.3M226.7,636.7H272M226.7,648.3H272
M117.3,631H151.7"/>
<path class="tr" d="M586.7,432.3V446M586.7,432.3H601.7M586.7,446H601.7
M570.7,439.2V459M570.7,439.2H586.7M570.7,459H601.7
M554.3,449.1V472.3M554.3,449.1H570.7M554.3,472.3H601.7
M538.3,460.7V485.7M538.3,460.7H554.3M538.3,485.7H601.7
M522.3,473.2V497.7M522.3,473.2H538.3M522.3,497.7H601.7
M586.7,511.7V523.3M586.7,511.7H601.7M586.7,523.3H601.7
M489,485.5V517.5M489,485.5H522.3M489,517.5H586.7
M586.7,538.3V551.7M586.7,538.3H601.7M586.7,551.7H601.7
M554.3,545V576.7M554.3,545H586.7M554.3,563.3H601.7M554.3,576.7H601.7
M538.3,560.9V590M538.3,560.9H554.3M538.3,590H601.7
M586.7,603.3V614.3M586.7,603.3H601.7M586.7,614.3H601.7
M505.7,575.5V608.8M505.7,575.5H538.3M505.7,608.8H586.7
M375,501.5V592.2M375,501.5H489M375,592.2H505.7
M342.7,546.8V642.7M342.7,546.8H375M342.7,628.3H601.7M342.7,642.7H601.7M338.5,606H342.7
M462.3,646H496.7"/>
</g>

<g id="tree-left-labels">
<g id="n-AmFAR"><text class="lf" x="276" y="437.3">AmFAR</text></g>
<g id="n-AtAG"><text class="lf" x="276" y="445.3">AtAG</text></g>
<g id="n-AmPLENA"><text class="lf" x="276" y="455.3">AmPLENA</text></g>
<g id="n-AtSHP1"><text class="lf" x="276" y="472">AtSHP1</text></g>
<g id="n-AtSHP2"><text class="lf" x="276" y="481.3">AtSHP2</text></g>
<g id="n-OsMADS3"><text class="lf" x="276" y="493">OsMADS3</text></g>
<g id="n-HoAG1"><text class="lf" x="276" y="503">HoAG1</text></g>
<g id="n-LsAG"><text class="lf" x="276" y="514.7" style="fill:#e0392b">LsAG</text></g>
<g id="n-CsAG1a"><text class="lf" x="276" y="525.3">CsAG1a</text></g>
<g id="n-DcOAG1"><text class="lf" x="276" y="533.7">DcOAG1</text></g>
<g id="n-PeMADS1"><text class="lf" x="276" y="545.7">PeMADS1</text></g>
<g id="n-CsAG1"><text class="lf" x="276" y="558">CsAG1</text></g>
<g id="n-AtSTK"><text class="lf" x="276" y="566.3">AtSTK</text></g>
<g id="n-PhFBP11"><text class="lf" x="276" y="579.7">PhFBP11</text></g>
<g id="n-PhFBP7"><text class="lf" x="276" y="588">PhFBP7</text></g>
<g id="n-DcOAG2"><text class="lf" x="276" y="597">DcOAG2</text></g>
<g id="n-ApMADS2"><text class="lf" x="276" y="610.3">ApMADS2</text></g>
<g id="n-GbM5"><text class="lf" x="276" y="621.7">GbM5</text></g>
<g id="n-CyAG"><text class="lf" x="276" y="633">CyAG</text></g>
<g id="n-PmSAG1a"><text class="lf" x="276" y="646.3">PmSAG1a</text></g>
<g id="n-PaDAL2"><text class="lf" x="276" y="655.7">PaDAL2</text></g>
<text class="sv" x="229.5" y="441.5">0.78</text>
<text class="sv" x="141" y="454">1</text>
<text class="sv" x="185.5" y="466">0.99</text>
<text class="sv" x="229.5" y="474">1</text>
<text class="sv" x="97" y="483">1</text>
<text class="sv" x="185.5" y="513.5">1</text>
<text class="sv" x="229.5" y="538.5">1</text>
<text class="sv" x="52" y="533.5">1</text>
<text class="sv" x="141" y="564">1</text>
<text class="sv" x="185.5" y="573.5">0.99</text>
<text class="sv" x="229.5" y="581.8">1</text>
<text class="sv" x="97" y="583.5">1</text>
<text class="sv" x="229.5" y="603.5">0.96</text>
<text class="sv" x="229.5" y="646.5">1</text>
<text class="sc" x="134.5" y="645.5">0.7</text>
</g>

<g id="tree-right-labels">
<g id="n-ZmM18"><text class="lf" x="606" y="437">ZmM18</text></g>
<g id="n-ZmM29"><text class="lf" x="606" y="450.3">ZmM29</text></g>
<g id="n-ZmM16"><text class="lf" x="606" y="464">ZmM16</text></g>
<g id="n-TgGLO"><text class="lf" x="606" y="477">TgGLO</text></g>
<g id="n-LsPI"><text class="lf" x="606" y="489.7" style="fill:#4b4fb0">LsPI</text></g>
<g id="n-PhM9"><text class="lf" x="606" y="501.3">PhM9</text></g>
<g id="n-AmGLO"><text class="lf" x="606" y="518.5">AmGLO</text></g>
<g id="n-AtPI"><text class="lf" x="606" y="530.3">AtPI</text></g>
<g id="n-DcOAP3B"><text class="lf" x="606" y="541.3">DcOAP3B</text></g>
<g id="n-PeMADS3"><text class="lf" x="606" y="555.3">PeMADS3</text></g>
<g id="n-TgDEF"><text class="lf" x="606" y="568">TgDEF</text></g>
<g id="n-LsAP3"><text class="lf" x="606" y="581.3" style="fill:#4b4fb0">LsAP3</text></g>
<g id="n-ZmSILKY"><text class="lf" x="606" y="594">ZmSILKY</text></g>
<g id="n-AmDEF"><text class="lf" x="606" y="608">AmDEF</text></g>
<g id="n-AtAP3"><text class="lf" x="606" y="620.5">AtAP3</text></g>
<g id="n-GgM2"><text class="lf" x="606" y="631">GgM2</text></g>
<g id="n-PaDAL12"><text class="lf" x="606" y="644">PaDAL12</text></g>
<text class="sv" x="589.5" y="443.5">1</text>
<text class="sv" x="573.5" y="453.5">1</text>
<text class="sv" x="556.7" y="464.5">0.75</text>
<text class="sv" x="540.7" y="476.5">0.51</text>
<text class="sv" x="524" y="490">0.98</text>
<text class="sv" x="492.5" y="506">1</text>
<text class="sv" x="589" y="521">0.86</text>
<text class="sv" x="590" y="548.5">1</text>
<text class="sv" x="557" y="562.5">0.73</text>
<text class="sv" x="540.5" y="579">0.91</text>
<text class="sv" x="508.5" y="596">1</text>
<text class="sv" x="590" y="612.5">1</text>
<text class="sv" x="378" y="550.5">1</text>
<text class="sc" x="479.5" y="659">2.0</text>
</g>
</svg>
